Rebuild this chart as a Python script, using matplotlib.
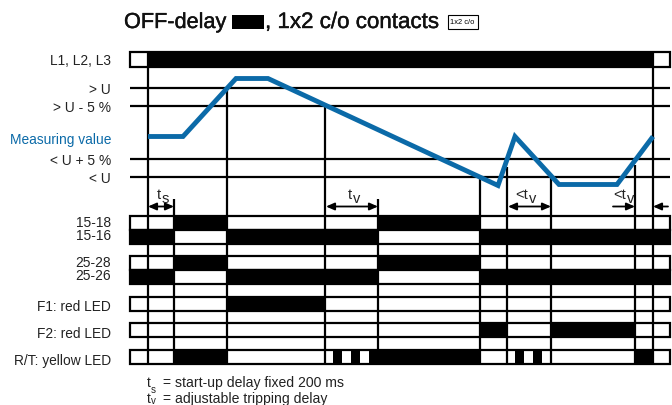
import matplotlib
matplotlib.use('Agg')
import matplotlib.pyplot as plt
import matplotlib.patheffects as pe

plt.rcParams['font.family'] = ['Liberation Sans', 'DejaVu Sans']

# time marks along the diagram (drawing units)
t_left = 129.5
t_right = 670
t_start = 147.5
t_end = 653

# level lines
level_names = ['> U', '> U - 5 %', '< U + 5 %', '< U']
level_y = [88.5, 106.5, 159.5, 177]
level_label_y = [89, 108, 161, 179]

# measuring value curve
meas_t = [148, 183, 236, 268, 498, 515, 559, 617, 653]
meas_y = [137, 137, 79, 79, 186, 137, 185, 185, 137]

# vertical cursors: time, where they start
cursor_t = [147.5, 174, 227, 325, 378, 480, 507, 551, 635, 653]
cursor_top = [52, 199, 89, 107, 199, 177, 167, 177, 165, 52]

# state rows: label, top, bottom, black intervals
row_names = ['15-18', '15-16', '25-28', '25-26', 'F1: red LED', 'F2: red LED', 'R/T: yellow LED']
row_top = [216, 230, 256, 270, 297, 323, 350]
row_bot = [230, 244, 270, 284, 311, 337, 364]
row_label_y = [222.7, 235.5, 262.7, 275.8, 306.8, 333.5, 360.2]
row_on = [
    [(174, 227), (378, 480)],
    [(129.5, 174), (227, 378), (480, 670)],
    [(174, 227), (378, 480)],
    [(129.5, 174), (227, 378), (480, 670)],
    [(227, 325)],
    [(480, 507), (551, 635)],
    [(174, 227), (333, 342), (351, 360), (369, 480), (515, 524), (533, 542), (635, 653)],
]

fig = plt.figure(figsize=(6.72, 4.06), dpi=100)
ax = fig.add_axes([0, 0, 1, 1])
ax.set_xlim(0, 672)
ax.set_ylim(405.5, -0.5)
ax.axis('off')

lw = 1.6
blue = '#0b6aa8'
fs = 9.9
grey = '#222222'

# title
heavy = [pe.withStroke(linewidth=0.3, foreground='#111111')]
ax.text(124, 23, 'OFF-delay', fontsize=15.6, va='center', ha='left', color='#111111', path_effects=heavy)
ax.broken_barh([(232, 32)], (15, 14), color='black', lw=0)
ax.text(265, 23, ', 1x2 c/o contacts', fontsize=16.1, va='center', ha='left', color='#111111', path_effects=heavy)
ax.add_patch(plt.Rectangle((447.5, 15), 30, 14, fc='white', ec='black', lw=0.8))
ax.text(462.5, 22.3, '1x2 c/o', fontsize=5.4, va='center', ha='center')

# supply bar
ax.add_patch(plt.Rectangle((t_left, 52), t_right - t_left, 15, fc='white', ec='black', lw=lw))
ax.broken_barh([(t_start, t_end - t_start)], (52, 15), color='black', lw=0)
ax.text(111, 60.5, 'L1, L2, L3', fontsize=fs, ha='right', va='center', color=grey)

# level lines
for name, y, ly in zip(level_names, level_y, level_label_y):
    ax.hlines(y, t_left, t_right, color='black', lw=lw)
    ax.text(111, ly, name, fontsize=fs, ha='right', va='center', color=grey)

# rows
for top, bot, on in zip(row_top, row_bot, row_on):
    ax.add_patch(plt.Rectangle((t_left, top), t_right - t_left, bot - top, fc='white', ec='black', lw=lw, zorder=2))
    ax.broken_barh([(a, b - a) for a, b in on], (top, bot - top), color='black', lw=0, zorder=2)
for name, y in zip(row_names, row_label_y):
    ax.text(111, y, name, fontsize=fs, ha='right', va='center', color=grey)

# cursors
for t, top in zip(cursor_t, cursor_top):
    ax.vlines(t, top, 364, color='black', lw=lw, zorder=3)

# curve
ax.plot(meas_t, meas_y, color=blue, lw=3.5, solid_joinstyle='miter', solid_capstyle='butt', zorder=4)
ax.text(111, 139.5, 'Measuring value', fontsize=fs, ha='right', va='center', color=blue)

# delay arrows
arrows = [(148, 174, '<|-|>'), (326, 378, '<|-|>'), (508, 551, '<|-|>'), (613, 635, '-|>'), (653, 668, '<|-')]
for a, b, style in arrows:
    ax.annotate('', xy=(b, 207), xytext=(a, 207), zorder=5,
                arrowprops=dict(arrowstyle=style + ',head_length=0.5,head_width=0.22', color='black',
                                lw=1.3, shrinkA=0, shrinkB=0))


def sub_label(x, y, main, sub, size=10.5):
    # letter with a lowered index, anchored on its right end at x
    ax.text(x, y, main, fontsize=size, ha='right', va='baseline', color=grey, zorder=5)
    ax.text(x + 0.5, y + 3.5, sub, fontsize=size, ha='left', va='baseline', color=grey, zorder=5)


sub_label(161, 199, 't', 's')
sub_label(352, 199, 't', 'v')
sub_label(528, 199, '<t', 'v')
sub_label(626, 199, '<t', 'v')

# footnotes
ax.text(147, 383, 't', fontsize=fs, va='center', color=grey)
ax.text(151, 389.5, 's', fontsize=7, va='center', color=grey)
ax.text(163, 383, '= start-up delay fixed 200 ms', fontsize=10.1, va='center', color=grey)
ax.text(147, 398.5, 't', fontsize=fs, va='center', color=grey)
ax.text(151, 400.5, 'v', fontsize=7, va='center', color=grey)
ax.text(163, 398.5, '= adjustable tripping delay', fontsize=10.1, va='center', color=grey)

fig.savefig('out.png', dpi=100)
